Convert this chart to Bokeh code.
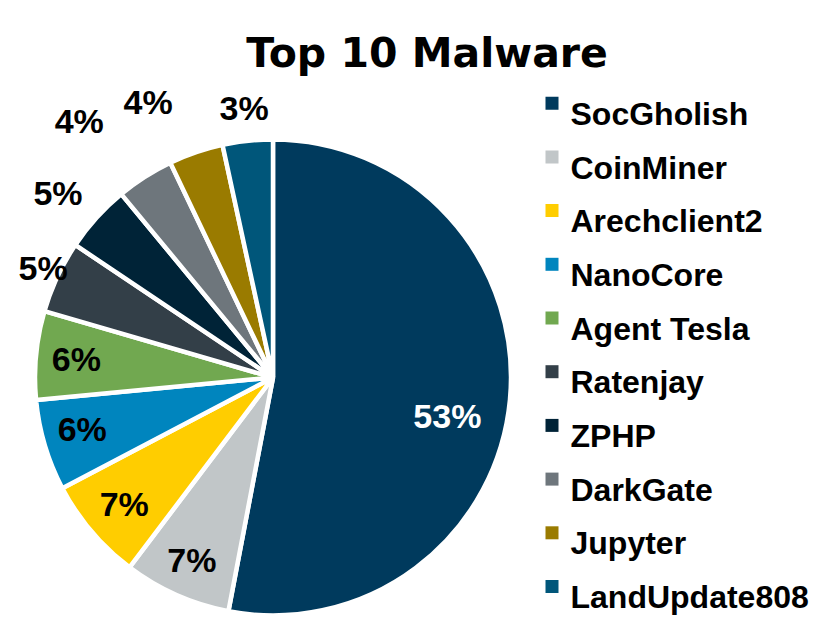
import numpy as np
from bokeh.plotting import figure
from bokeh.models import Range1d, ColumnDataSource
from bokeh.core.properties import value
from bokeh.embed import file_html
from bokeh.resources import INLINE

# ---------------- data ----------------
TITLE = "Top 10 Malware"
categories = ["SocGholish", "CoinMiner", "Arechclient2", "NanoCore", "Agent Tesla",
              "Ratenjay", "ZPHP", "DarkGate", "Jupyter", "LandUpdate808"]
shares = [53.0, 7.3, 7.0, 6.2, 6.0, 4.9, 4.6, 3.9, 3.7, 3.4]
colors = ["#003A5D", "#C1C6C8", "#FFCD00", "#0085BE", "#71A850",
          "#333F48", "#002337", "#6E767C", "#9A7B00", "#00567A"]

# ---------------- layout / style ----------------
W, H = 835, 627
CX, CY, R = 272.5, H - 377.0, 238.0
# label placement (radius factor, angular nudge in degrees, clockwise positive)
label_rfac = [0.75, 0.84, 0.82, 0.83, 0.83, 1.07, 1.19, 1.35, 1.27, 1.14]
label_nudge = [7.0, 0.0, 0.0, 1.5, 0.0, 0.5, -1.5, -4.5, -5.5, 0.0]
label_color = ["white"] + ["black"] * 9

vals = np.array(shares, dtype=float)
frac = vals / vals.sum()
c1 = np.cumsum(frac)
c0 = c1 - frac
start = np.pi / 2 - 2 * np.pi * c0
end = np.pi / 2 - 2 * np.pi * c1
mid_cw = (c0 + c1) / 2 * 360.0 + np.array(label_nudge)  # degrees clockwise from top
rad = np.deg2rad(mid_cw)
lx = CX + R * np.array(label_rfac) * np.sin(rad)
ly = CY + R * np.array(label_rfac) * np.cos(rad)
pct = [f"{int(round(f * 100))}%" for f in frac]

p = figure(width=W, height=H, output_backend="svg", toolbar_location=None,
           x_range=Range1d(0, W), y_range=Range1d(0, H), min_border=0,
           tools="")
p.axis.visible = False
p.grid.visible = False
p.outline_line_color = None
p.background_fill_color = "white"
p.border_fill_color = "white"

src = ColumnDataSource(dict(start=start, end=end, color=colors, cat=categories))
p.wedge(x=CX, y=CY, radius=R, start_angle="start", end_angle="end",
        direction="clock", fill_color="color", line_color="white",
        line_width=4.5, source=src)

lsrc = ColumnDataSource(dict(x=lx, y=ly, t=pct, c=label_color))
p.text(x="x", y="y", text="t", text_color="c", source=lsrc,
       text_font=value("Liberation Sans"), text_font_size="34px",
       text_font_style="bold", text_align="center", text_baseline="middle")

# title
p.text(x=[426.5], y=[H - 52], text=[TITLE], text_font=value("DejaVu Sans"),
       text_font_size="41px", text_font_style="bold", text_color="black",
       text_align="center", text_baseline="alphabetic")

# legend (manual)
n = len(categories)
LEG_X, LEG_Y0, LEG_STEP = 551.5, H - 102.7, 53.7
ly_leg = LEG_Y0 - LEG_STEP * np.arange(n)
p.rect(x=[LEG_X] * n, y=ly_leg, width=13, height=13, fill_color=colors,
       line_color=None)
p.text(x=[570] * n, y=ly_leg - 10.6, text=categories,
       text_font=value("Liberation Sans"), text_font_size="32px",
       text_font_style="bold", text_color="black",
       text_align="left", text_baseline="alphabetic")

open("out.html", "w").write(file_html(p, INLINE))
